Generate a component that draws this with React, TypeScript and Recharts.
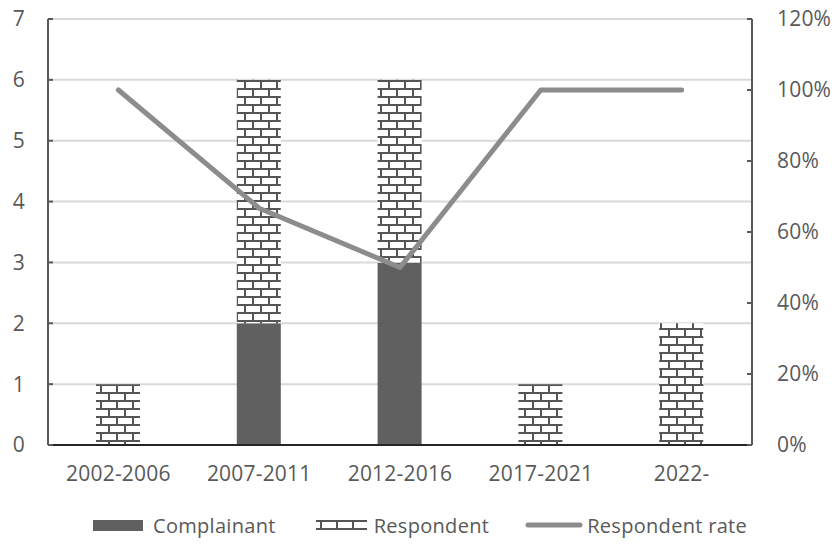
import { ComposedChart, Bar, Line, XAxis, YAxis, CartesianGrid, Legend } from "recharts";

const periods = ["2002-2006", "2007-2011", "2012-2016", "2017-2021", "2022-"];
const complainant = [0, 2, 3, 0, 0];
const respondent = [1, 4, 3, 1, 2];
const respondentRate = [1, 0.667, 0.5, 1, 1];

const countTicks = [0, 1, 2, 3, 4, 5, 6, 7];
const rateTicks = [0, 0.2, 0.4, 0.6, 0.8, 1, 1.2];

const data = periods.map((period, i) => ({
    period,
    complainant: complainant[i],
    respondent: respondent[i],
    rate: respondentRate[i],
}));

const font = "'Open Sans', sans-serif";
const textColor = "#595959";
const tickStyle = { fontFamily: font, fontSize: 21, fill: textColor, letterSpacing: 0.2 };

// brick hatch used by the Respondent bars and their legend key
function BrickDefs() {
    return (
        <svg width={0} height={0} style={{ position: "absolute" }}>
            <defs>
                <pattern id="brick" patternUnits="userSpaceOnUse" width={16} height={16}>
                    <rect width={16} height={16} fill="#fff" />
                    <rect x={0} y={0} width={16} height={2} fill="#555" />
                    <rect x={0} y={8} width={16} height={2} fill="#555" />
                    <rect x={4} y={0} width={2} height={8} fill="#555" />
                    <rect x={12} y={8} width={2} height={8} fill="#555" />
                </pattern>
            </defs>
        </svg>
    );
}

function LegendRow() {
    return (
        <div
            style={{
                display: "flex",
                alignItems: "center",
                height: 38,
                paddingLeft: 93,
                fontFamily: font,
                fontSize: 20,
                color: textColor,
                letterSpacing: 0.3,
                whiteSpace: "nowrap",
            }}
        >
            <svg width={50} height={11}>
                <rect width={50} height={11} fill="#606060" />
            </svg>
            <span style={{ marginLeft: 10 }}>Complainant</span>
            <svg width={51} height={10} style={{ marginLeft: 40 }}>
                <rect width={51} height={10} fill="url(#brick)" />
            </svg>
            <span style={{ marginLeft: 7 }}>Respondent</span>
            <svg width={58} height={6} style={{ marginLeft: 36 }}>
                <line x1={3} y1={3} x2={55} y2={3} stroke="#8c8c8c" strokeWidth={5} strokeLinecap="round" />
            </svg>
            <span style={{ marginLeft: 4 }}>Respondent rate</span>
        </div>
    );
}

export default function App() {
    return (
        <div style={{ position: "fixed", left: 0, top: 0, width: 834, height: 544, background: "#fff" }}>
            <BrickDefs />
            <ComposedChart
                width={834}
                height={544}
                data={data}
                margin={{ top: 19, right: 0, bottom: 0, left: 0 }}
            >
                <CartesianGrid yAxisId="count" vertical={false} stroke="#d9d9d9" strokeWidth={2} />
                <XAxis
                    dataKey="period"
                    height={61}
                    tickLine={false}
                    tickSize={0}
                    tickMargin={21}
                    axisLine={{ stroke: "#262626", strokeWidth: 2 }}
                    tick={tickStyle}
                    interval={0}
                />
                <YAxis
                    yAxisId="count"
                    width={48}
                    domain={[0, 7]}
                    ticks={countTicks}
                    tickSize={-5}
                    tickMargin={28}
                    axisLine={{ stroke: textColor, strokeWidth: 2 }}
                    tickLine={{ stroke: textColor, strokeWidth: 2 }}
                    tick={tickStyle}
                />
                <YAxis
                    yAxisId="rate"
                    orientation="right"
                    width={82}
                    domain={[0, 1.2]}
                    ticks={rateTicks}
                    tickSize={-5}
                    tickMargin={30}
                    tickFormatter={(v: number) => `${Math.round(v * 100)}%`}
                    axisLine={{ stroke: textColor, strokeWidth: 2 }}
                    tickLine={{ stroke: textColor, strokeWidth: 2 }}
                    tick={tickStyle}
                />
                <Bar
                    yAxisId="count"
                    dataKey="complainant"
                    name="Complainant"
                    stackId="a"
                    barSize={44}
                    fill="#606060"
                    isAnimationActive={false}
                />
                <Bar
                    yAxisId="count"
                    dataKey="respondent"
                    name="Respondent"
                    stackId="a"
                    barSize={44}
                    fill="url(#brick)"
                    isAnimationActive={false}
                />
                <Line
                    yAxisId="rate"
                    dataKey="rate"
                    name="Respondent rate"
                    type="linear"
                    stroke="#8c8c8c"
                    strokeWidth={5}
                    strokeLinecap="round"
                    strokeLinejoin="round"
                    dot={false}
                    activeDot={false}
                    isAnimationActive={false}
                />
                <Legend
                    verticalAlign="bottom"
                    height={38}
                    wrapperStyle={{ left: 0, width: 834 }}
                    content={() => <LegendRow />}
                />
            </ComposedChart>
        </div>
    );
}
